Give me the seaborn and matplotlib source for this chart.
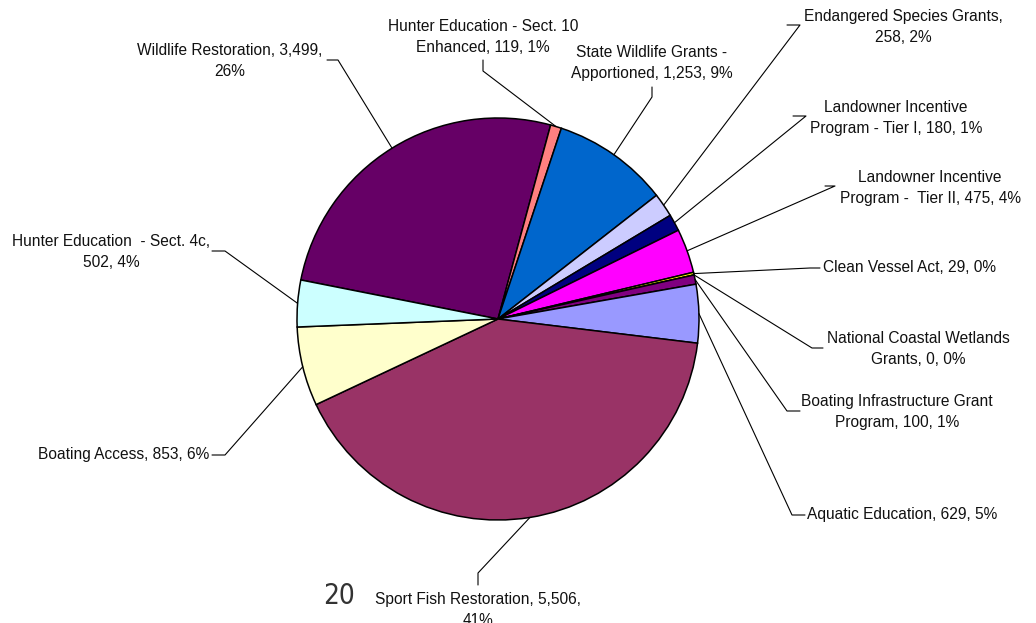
import numpy as np
import matplotlib
matplotlib.use("Agg")
import matplotlib.pyplot as plt
import seaborn as sns

# values (in clockwise order starting from the Wildlife Restoration slice)
programs = [
    "Wildlife Restoration", "Hunter Education - Sect. 10 Enhanced",
    "State Wildlife Grants - Apportioned", "Endangered Species Grants",
    "Landowner Incentive Program - Tier I", "Landowner Incentive Program -  Tier II",
    "Clean Vessel Act", "National Coastal Wetlands Grants",
    "Boating Infrastructure Grant Program", "Aquatic Education",
    "Sport Fish Restoration", "Boating Access", "Hunter Education  - Sect. 4c",
]
amounts = [3499, 119, 1253, 258, 180, 475, 29, 0, 100, 629, 5506, 853, 502]
label_text = [
    "Wildlife Restoration, 3,499,\n26%",
    "Hunter Education - Sect. 10\nEnhanced, 119, 1%",
    "State Wildlife Grants -\nApportioned, 1,253, 9%",
    "Endangered Species Grants,\n258, 2%",
    "Landowner Incentive\nProgram - Tier I, 180, 1%",
    "Landowner Incentive\nProgram -  Tier II, 475, 4%",
    "Clean Vessel Act, 29, 0%",
    "National Coastal Wetlands\nGrants, 0, 0%",
    "Boating Infrastructure Grant\nProgram, 100, 1%",
    "Aquatic Education, 629, 5%",
    "Sport Fish Restoration, 5,506,\n41%",
    "Boating Access, 853, 6%",
    "Hunter Education  - Sect. 4c,\n502, 4%",
]
colors = ["#660066", "#FF8080", "#0066CC", "#CCCCFF", "#000080", "#FF00FF",
          "#FFFF00", "#00FFFF", "#800080", "#9999FF", "#993366", "#FFFFCC",
          "#CCFFFF"]

# layout, in pixel coordinates (y down): text anchor, alignment, leader knee and end
W, H = 1036, 623
layout = [
    ((230, 61), "center", [(338, 60), (327, 60)]),
    ((483, 37), "center", [(483, 71), (483, 60)]),
    ((652, 63), "center", [(652, 97), (652, 87)]),
    ((903, 27), "center", [(800, 25), (787, 25)]),
    ((896, 118), "center", [(806, 116), (793, 116)]),
    ((930, 188), "center", [(835, 186), (825, 186)]),
    ((823, 268), "left", [(810, 268), (820, 268)]),
    ((918, 349), "center", [(812, 348), (823, 348)]),
    ((897, 412), "center", [(787, 411), (800, 411)]),
    ((807, 515), "left", [(792, 515), (805, 515)]),
    ((478, 610), "center", [(478, 573), (478, 585)]),
    ((209, 455), "right", [(225, 455), (212, 455)]),
    ((111, 252), "center", [(225, 251), (212, 251)]),
]

cx, cy, r = 498, 319, 201
start = 168.8

sns.set_theme(style="white")
plt.rcParams["font.family"] = ["Liberation Sans", "DejaVu Sans"]


def px(x, y):
    return x, H - y


fig = plt.figure(figsize=(W / 100, H / 100), dpi=100)
ax = fig.add_axes([0, 0, 1, 1])
ax.set_xlim(0, W)
ax.set_ylim(0, H)
ax.axis("off")

wedges, _ = ax.pie(amounts, colors=colors, startangle=start, counterclock=False,
                   center=px(cx, cy), radius=r,
                   wedgeprops=dict(edgecolor="black", linewidth=1.1))
ax.set_xlim(0, W)
ax.set_ylim(0, H)

for w, txt, (pos, ha, pts) in zip(wedges, label_text, layout):
    mid = np.deg2rad((w.theta1 + w.theta2) / 2)
    ax0 = cx + r * np.cos(mid)
    ay0 = cy - r * np.sin(mid)
    xs = [ax0] + [p[0] for p in pts]
    ys = [ay0] + [p[1] for p in pts]
    ax.plot(xs, [H - y for y in ys], color="black", lw=0.8)
    ax.text(*px(*pos), txt, ha=ha, va="center", fontsize=11.2, color="#111111",
            linespacing=1.42, multialignment="center")

ax.text(*px(339, 596), "20", ha="center", va="center", fontsize=20, color="#333333",
        family=["DejaVu Sans"], fontstretch="condensed", fontweight="light")

fig.savefig("out.png", dpi=100, facecolor="white")
